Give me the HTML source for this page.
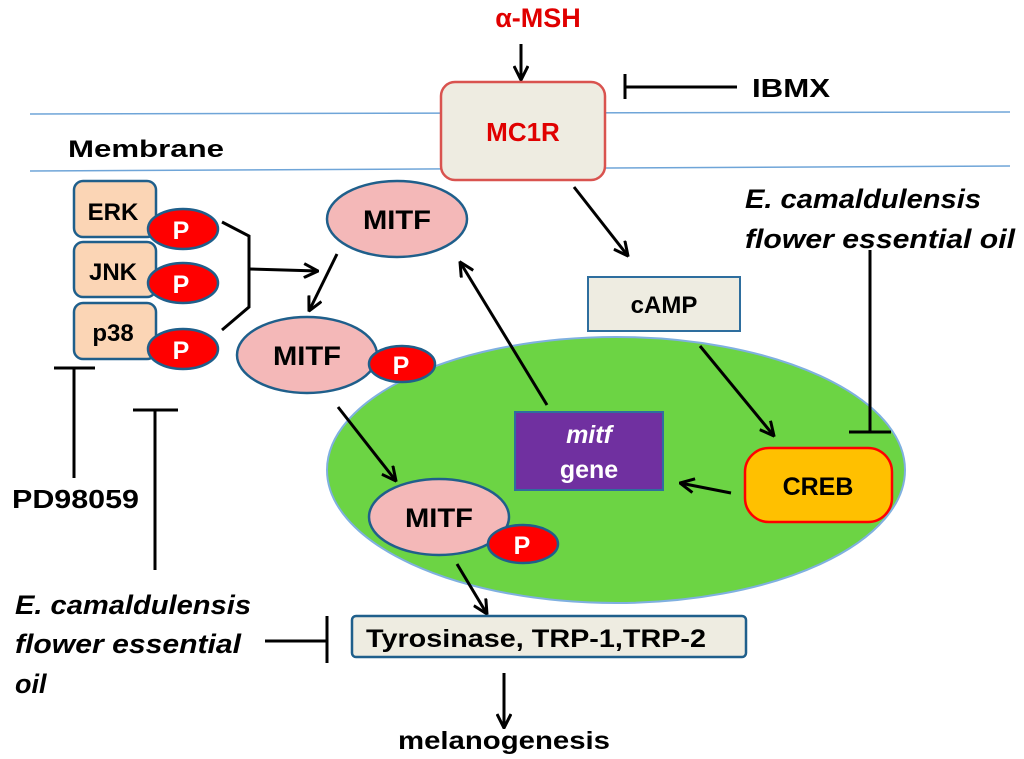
<!DOCTYPE html>
<html><head><meta charset="utf-8"><style>
html,body{margin:0;padding:0;background:#fff;}
svg{display:block;}
text{font-family:"Liberation Sans",sans-serif;font-weight:bold;}
</style></head><body>
<svg width="1024" height="759" viewBox="0 0 1024 759" xmlns="http://www.w3.org/2000/svg">
<defs>
<marker id="a" viewBox="0 0 16 16" refX="15" refY="8" markerWidth="16" markerHeight="16" markerUnits="userSpaceOnUse" orient="auto">
<path d="M1,1 L15,8 L1,15" fill="none" stroke="#000" stroke-width="3"/>
</marker>
</defs>
<!-- membrane -->
<line x1="30" y1="114" x2="1010" y2="112" stroke="#6fa5d8" stroke-width="1.5"/>
<line x1="30" y1="171" x2="1010" y2="166" stroke="#6fa5d8" stroke-width="1.5"/>
<text x="68" y="157" font-size="24" textLength="156" lengthAdjust="spacingAndGlyphs" fill="#000">Membrane</text>
<!-- alpha MSH -->
<text x="538" y="27" font-size="27" fill="#e00000" text-anchor="middle">α-MSH</text>
<line x1="521" y1="44" x2="521" y2="80" stroke="#000" stroke-width="3" marker-end="url(#a)"/>
<!-- MC1R -->
<rect x="441" y="82" width="164" height="98" rx="14" fill="#eeece1" stroke="#d9534f" stroke-width="2.5"/>
<text x="523" y="141" font-size="26" fill="#e00000" text-anchor="middle">MC1R</text>
<!-- IBMX -->
<line x1="625" y1="74" x2="625" y2="99" stroke="#000" stroke-width="3"/>
<line x1="625" y1="87" x2="737" y2="87" stroke="#000" stroke-width="3"/>
<text x="752" y="97" font-size="26" textLength="78" lengthAdjust="spacingAndGlyphs" fill="#000">IBMX</text>
<!-- right label -->
<text x="745" y="208" font-size="27" font-style="italic" textLength="236" lengthAdjust="spacingAndGlyphs" fill="#000">E. camaldulensis</text>
<text x="745" y="248" font-size="27" font-style="italic" textLength="270" lengthAdjust="spacingAndGlyphs" fill="#000">flower essential oil</text>
<!-- nucleus -->
<ellipse cx="616" cy="470" rx="289" ry="133" fill="#6cd444" stroke="#7fb0e0" stroke-width="2"/>
<!-- MC1R -> cAMP -->
<line x1="574" y1="187" x2="628" y2="256" stroke="#000" stroke-width="3" marker-end="url(#a)"/>
<rect x="588" y="277" width="152" height="54" fill="#eeece1" stroke="#2e6e9e" stroke-width="2"/>
<text x="664" y="313" font-size="24" fill="#000" text-anchor="middle">cAMP</text>
<line x1="700" y1="346" x2="774" y2="436" stroke="#000" stroke-width="3" marker-end="url(#a)"/>
<!-- CREB inhibitor -->
<line x1="870" y1="250" x2="870" y2="432" stroke="#000" stroke-width="3"/>
<line x1="849" y1="432" x2="891" y2="432" stroke="#000" stroke-width="3"/>
<!-- CREB -->
<rect x="745" y="448" width="147" height="74" rx="24" fill="#ffc000" stroke="#ff0000" stroke-width="2.5"/>
<text x="818" y="495" font-size="25" fill="#000" text-anchor="middle">CREB</text>
<line x1="731" y1="493" x2="680" y2="483" stroke="#000" stroke-width="3" marker-end="url(#a)"/>
<!-- mitf gene -->
<rect x="515" y="412" width="148" height="78" fill="#7030a0" stroke="#2e6e9e" stroke-width="2"/>
<text x="589" y="443" font-size="25" fill="#fff" font-style="italic" text-anchor="middle">mitf</text>
<text x="589" y="478" font-size="25" fill="#fff" text-anchor="middle">gene</text>
<line x1="547" y1="405" x2="460" y2="262" stroke="#000" stroke-width="3" marker-end="url(#a)"/>
<!-- kinases -->
<g stroke="#1f5f8b" stroke-width="2.5" fill="#fbd5b5">
<rect x="74" y="181" width="82" height="56" rx="9"/>
<rect x="74" y="242" width="82" height="55" rx="9"/>
<rect x="74" y="303" width="82" height="56" rx="9"/>
</g>
<text x="113" y="220" font-size="24" text-anchor="middle">ERK</text>
<text x="113" y="280" font-size="24" text-anchor="middle">JNK</text>
<text x="113" y="341" font-size="24" text-anchor="middle">p38</text>
<g stroke="#1f5f8b" stroke-width="2.5" fill="#ff0000">
<ellipse cx="183" cy="229" rx="35" ry="20"/>
<ellipse cx="183" cy="283" rx="35" ry="20"/>
<ellipse cx="183" cy="349" rx="35" ry="20"/>
</g>
<text x="181" y="239" font-size="25" fill="#fff" text-anchor="middle">P</text>
<text x="181" y="293" font-size="25" fill="#fff" text-anchor="middle">P</text>
<text x="181" y="359" font-size="25" fill="#fff" text-anchor="middle">P</text>
<!-- bracket -->
<polyline points="222,222 249,236 249,307 222,330" fill="none" stroke="#000" stroke-width="3"/>
<line x1="249" y1="269" x2="318" y2="271" stroke="#000" stroke-width="3" marker-end="url(#a)"/>
<!-- MITF1 -->
<ellipse cx="397" cy="219" rx="70" ry="38" fill="#f4b8b8" stroke="#1f5f8b" stroke-width="2.5"/>
<text x="397" y="229" font-size="27" textLength="68" lengthAdjust="spacingAndGlyphs" text-anchor="middle">MITF</text>
<line x1="337" y1="254" x2="309" y2="311" stroke="#000" stroke-width="3" marker-end="url(#a)"/>
<!-- MITF2 -->
<ellipse cx="307" cy="355" rx="70" ry="38" fill="#f4b8b8" stroke="#1f5f8b" stroke-width="2.5"/>
<text x="307" y="365" font-size="27" textLength="68" lengthAdjust="spacingAndGlyphs" text-anchor="middle">MITF</text>
<ellipse cx="402" cy="364" rx="33" ry="18" fill="#ff0000" stroke="#1f5f8b" stroke-width="2.5"/>
<text x="401" y="374" font-size="25" fill="#fff" text-anchor="middle">P</text>
<line x1="338" y1="407" x2="396" y2="481" stroke="#000" stroke-width="3" marker-end="url(#a)"/>
<!-- MITF3 -->
<ellipse cx="439" cy="517" rx="70" ry="38" fill="#f4b8b8" stroke="#1f5f8b" stroke-width="2.5"/>
<text x="439" y="527" font-size="27" textLength="68" lengthAdjust="spacingAndGlyphs" text-anchor="middle">MITF</text>
<ellipse cx="523" cy="544" rx="35" ry="19" fill="#ff0000" stroke="#1f5f8b" stroke-width="2.5"/>
<text x="522" y="554" font-size="25" fill="#fff" text-anchor="middle">P</text>
<line x1="457" y1="564" x2="487" y2="614" stroke="#000" stroke-width="3" marker-end="url(#a)"/>
<!-- Tyr box -->
<rect x="352" y="616" width="394" height="41" rx="4" fill="#eeece1" stroke="#1f5f8b" stroke-width="2.5"/>
<text x="366" y="647" font-size="25" textLength="340" lengthAdjust="spacingAndGlyphs" fill="#000">Tyrosinase, TRP-1,TRP-2</text>
<line x1="265" y1="641" x2="327" y2="641" stroke="#000" stroke-width="3"/>
<line x1="327" y1="616" x2="327" y2="663" stroke="#000" stroke-width="3"/>
<line x1="504" y1="673" x2="504" y2="728" stroke="#000" stroke-width="3" marker-end="url(#a)"/>
<text x="398" y="749" font-size="25" textLength="212" lengthAdjust="spacingAndGlyphs" fill="#000">melanogenesis</text>
<!-- left inhibitors -->
<line x1="54" y1="368" x2="95" y2="368" stroke="#000" stroke-width="3"/>
<line x1="74" y1="368" x2="74" y2="478" stroke="#000" stroke-width="3"/>
<text x="12" y="508" font-size="26" textLength="127" lengthAdjust="spacingAndGlyphs" fill="#000">PD98059</text>
<line x1="133" y1="410" x2="178" y2="410" stroke="#000" stroke-width="3"/>
<line x1="155" y1="410" x2="155" y2="570" stroke="#000" stroke-width="3"/>
<text x="15" y="614" font-size="27" font-style="italic" textLength="236" lengthAdjust="spacingAndGlyphs" fill="#000">E. camaldulensis</text>
<text x="15" y="653" font-size="27" font-style="italic" textLength="226" lengthAdjust="spacingAndGlyphs" fill="#000">flower essential</text>
<text x="15" y="693" font-size="27" font-style="italic" fill="#000">oil</text>
</svg>
</body></html>
